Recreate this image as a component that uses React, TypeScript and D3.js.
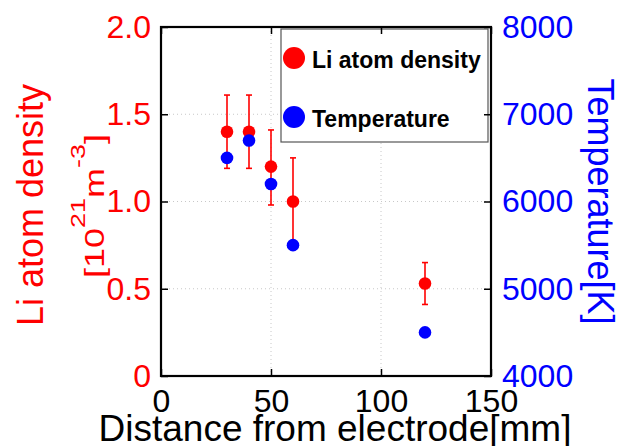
import { useRef, useEffect } from 'react'
import * as d3 from 'd3'

// values
const distance = [30, 40, 50, 60, 120]
const liDensity = [1.4, 1.4, 1.2, 1.0, 0.53]
const liUpper = [1.61, 1.61, 1.41, 1.25, 0.65]
const liLower = [1.19, 1.19, 0.98, 0.75, 0.41]
const temperature = [6500, 6700, 6200, 5500, 4500]

const xTicks = [0, 50, 100, 150]
const leftTicks = [0, 0.5, 1.0, 1.5, 2.0]
const rightTicks = [4000, 5000, 6000, 7000, 8000]

const RED = '#ff0000'
const BLUE = '#0000ff'
const FONT = '"Liberation Sans", Arial, sans-serif'

const W = 624
const H = 446

export default function App() {
  const svgRef = useRef<SVGSVGElement | null>(null)

  useEffect(() => {
    if (!svgRef.current) return
    const svg = d3.select(svgRef.current)
    svg.selectAll('*').remove()

    const left = 161, right = 491, top = 27, bottom = 376

    const x = d3.scaleLinear().domain([0, 150]).range([left, right])
    const yL = d3.scaleLinear().domain([0, 2]).range([bottom, top])
    const yR = d3.scaleLinear().domain([4000, 8000]).range([bottom, top])

    svg.append('rect').attr('width', W).attr('height', H).attr('fill', '#fff')

    // dotted grid
    const grid = svg.append('g').attr('stroke', '#c8c8c8').attr('stroke-width', 1).attr('stroke-dasharray', '1,3')
    xTicks.slice(1, -1).forEach(t => {
      grid.append('line').attr('x1', x(t)).attr('x2', x(t)).attr('y1', top).attr('y2', bottom)
    })
    leftTicks.slice(1, -1).forEach(t => {
      grid.append('line').attr('x1', left).attr('x2', right).attr('y1', yL(t)).attr('y2', yL(t))
    })

    // error bars
    const eb = svg.append('g').attr('stroke', RED).attr('stroke-width', 1.6)
    distance.forEach((d, i) => {
      const cx = x(d)
      eb.append('line').attr('x1', cx).attr('x2', cx).attr('y1', yL(liUpper[i])).attr('y2', yL(liLower[i]))
      eb.append('line').attr('x1', cx - 3).attr('x2', cx + 3).attr('y1', yL(liUpper[i])).attr('y2', yL(liUpper[i]))
      eb.append('line').attr('x1', cx - 3).attr('x2', cx + 3).attr('y1', yL(liLower[i])).attr('y2', yL(liLower[i]))
    })

    // markers
    svg.append('g').selectAll('circle').data(distance).join('circle')
      .attr('cx', d => x(d)).attr('cy', (_, i) => yL(liDensity[i])).attr('r', 6.3).attr('fill', RED)
    svg.append('g').selectAll('circle').data(distance).join('circle')
      .attr('cx', d => x(d)).attr('cy', (_, i) => yR(temperature[i])).attr('r', 6.3).attr('fill', BLUE)

    // legend
    const lg = svg.append('g')
    lg.append('rect').attr('x', 281).attr('y', 29).attr('width', 207).attr('height', 113)
      .attr('fill', '#fff').attr('stroke', '#555').attr('stroke-width', 1.2)
    const items = [
      { label: 'Li atom density', color: RED, y: 58 },
      { label: 'Temperature', color: BLUE, y: 117 },
    ]
    items.forEach(it => {
      lg.append('circle').attr('cx', 294).attr('cy', it.y).attr('r', 11).attr('fill', it.color)
      lg.append('text').attr('x', 312).attr('y', it.y + 9.5)
        .attr('font-family', FONT).attr('font-size', 23).attr('font-weight', 'bold').attr('fill', '#000')
        .text(it.label)
    })

    // axes
    const styleAxis = (g: any, color: string) => {
      g.select('.domain').remove()
      g.selectAll('line').attr('stroke', '#000').attr('stroke-width', 1.5)
      g.selectAll('text').attr('fill', color).attr('font-family', FONT).attr('font-size', 32)
    }

    svg.append('g').attr('transform', `translate(${left},0)`)
      .call(d3.axisLeft(yL).tickValues(leftTicks).tickSizeInner(-7).tickSizeOuter(0).tickPadding(10)
        .tickFormat(d => (+d === 0 ? '0' : d3.format('.1f')(+d))))
      .call(g => styleAxis(g, RED))

    svg.append('g').attr('transform', `translate(${right},0)`)
      .call(d3.axisRight(yR).tickValues(rightTicks).tickSizeInner(-7).tickSizeOuter(0).tickPadding(11)
        .tickFormat(d => String(d)))
      .call(g => styleAxis(g, BLUE))

    svg.append('g').attr('transform', `translate(0,${bottom})`)
      .call(d3.axisBottom(x).tickValues(xTicks).tickSizeInner(-7).tickSizeOuter(0).tickPadding(13)
        .tickFormat(d => String(d)))
      .call(g => styleAxis(g, '#000'))

    svg.append('g').attr('transform', `translate(0,${top})`)
      .call(d3.axisTop(x).tickValues(xTicks).tickSizeInner(-7).tickSizeOuter(0).tickFormat(() => ''))
      .call(g => styleAxis(g, '#000'))

    // frame
    svg.append('rect').attr('x', left).attr('y', top).attr('width', right - left).attr('height', bottom - top)
      .attr('fill', 'none').attr('stroke', '#000').attr('stroke-width', 2.2)

    // titles
    svg.append('text').attr('x', 335).attr('y', 441).attr('text-anchor', 'middle')
      .attr('font-family', FONT).attr('font-size', 37).attr('fill', '#000')
      .text('Distance from electrode[mm]')

    svg.append('text').attr('transform', 'translate(43,205) rotate(-90)').attr('text-anchor', 'middle')
      .attr('font-family', FONT).attr('font-size', 36).attr('fill', RED)
      .text('Li atom density')

    const unit = svg.append('text').attr('transform', 'translate(104,206) rotate(-90) scale(1,0.78)')
      .attr('text-anchor', 'middle').attr('font-family', FONT).attr('font-size', 36).attr('fill', RED)
    unit.append('tspan').text('[10')
    unit.append('tspan').attr('font-size', 27).attr('dy', -25).text('21')
    unit.append('tspan').attr('dy', 25).text('m')
    unit.append('tspan').attr('font-size', 27).attr('dy', -25).text('-3')
    unit.append('tspan').attr('dy', 25).text(']')

    svg.append('text').attr('transform', 'translate(588,201.5) rotate(90)').attr('text-anchor', 'middle')
      .attr('font-family', FONT).attr('font-size', 36).attr('fill', BLUE)
      .text('Temperature[K]')
  }, [])

  return (
    <div style={{ position: 'fixed', left: 0, top: 0 }}>
      <svg ref={svgRef} width={W} height={H} style={{ display: 'block' }} />
    </div>
  )
}
